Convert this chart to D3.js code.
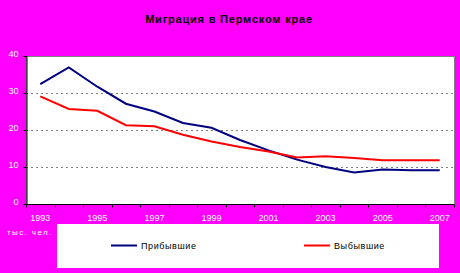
<!DOCTYPE html>
<html>
<head>
<meta charset="UTF-8">
<style>
  body { margin: 0; background: #ff00ff; }
  svg { display: block; font-family: Arial, "Liberation Sans", sans-serif; }
</style>
</head>
<body>
<script src="https://d3js.org/d3.v7.min.js"></script>
<svg width="460" height="273"></svg>
<script>
var years = [1993, 1994, 1995, 1996, 1997, 1998, 1999, 2000, 2001, 2002, 2003, 2004, 2005, 2006, 2007];
var arrived = [32.4, 36.9, 31.7, 27.1, 25.0, 21.9, 20.6, 17.3, 14.5, 12.0, 10.0, 8.5, 9.3, 9.1, 9.1];
var departed = [29.1, 25.7, 25.2, 21.3, 21.0, 18.7, 16.9, 15.4, 14.2, 12.6, 12.9, 12.4, 11.8, 11.8, 11.8];
var yTicks = [0, 10, 20, 30, 40];
var seriesNames = ["Прибывшие", "Выбывшие"];

var svg = d3.select("svg");
var plotL = 26, plotR = 454, plotT = 56, plotB = 204;

var x = d3.scaleBand().domain(years).range([plotL, plotR]);
var y = d3.scaleLinear().domain([0, 40]).range([plotB, plotT]);

svg.append("rect").attr("width", 460).attr("height", 273).attr("fill", "#ff00ff");

// plot area
svg.append("rect")
  .attr("x", plotL + 0.5).attr("y", plotT + 0.5)
  .attr("width", plotR - plotL).attr("height", plotB - plotT)
  .attr("fill", "#fff").attr("stroke", "#808080");

// gridlines
svg.append("g").selectAll("line")
  .data([10, 20, 30])
  .join("line")
  .attr("x1", plotL).attr("x2", plotR)
  .attr("y1", d => y(d) + 0.5).attr("y2", d => y(d) + 0.5)
  .attr("stroke", "#808080").attr("stroke-dasharray", "2,3");

// title
svg.append("text")
  .attr("x", 229).attr("y", 23)
  .attr("text-anchor", "middle")
  .attr("font-size", 11).attr("font-weight", "bold")
  .attr("letter-spacing", 0.8)
  .text("Миграция в Пермском крае");

// y axis
var yAxis = svg.append("g")
  .attr("transform", "translate(" + (plotL + 0.5) + ",0)")
  .call(d3.axisLeft(y).tickValues(yTicks).tickSize(3).tickPadding(5));
yAxis.select(".domain").attr("stroke", "#000");
yAxis.selectAll("text").attr("fill", "#fff").attr("font-size", 9).attr("dy", "0.1em");

// x axis: ticks at category boundaries
var xAxis = svg.append("g")
  .attr("transform", "translate(0," + (plotB + 0.5) + ")");
xAxis.append("line").attr("x1", plotL).attr("x2", plotR).attr("stroke", "#000");
xAxis.selectAll(".tk")
  .data(years.concat([null]))
  .join("line")
  .attr("class", "tk")
  .attr("x1", (d, i) => Math.round(plotL + i * x.bandwidth()) + 0.5)
  .attr("x2", (d, i) => Math.round(plotL + i * x.bandwidth()) + 0.5)
  .attr("y1", 0).attr("y2", 3)
  .attr("stroke", "#000");
xAxis.selectAll(".lbl")
  .data(years.filter(d => d % 2 === 1))
  .join("text")
  .attr("class", "lbl")
  .attr("x", d => x(d) + x.bandwidth() / 2)
  .attr("y", 16)
  .attr("text-anchor", "middle")
  .attr("fill", "#fff").attr("font-size", 9)
  .text(d => d);

var line = d3.line()
  .x((d, i) => x(years[i]) + x.bandwidth() / 2)
  .y(d => y(d));

svg.append("path").datum(arrived)
  .attr("d", line).attr("fill", "none")
  .attr("stroke", "#000080").attr("stroke-width", 2);
svg.append("path").datum(departed)
  .attr("d", line).attr("fill", "none")
  .attr("stroke", "#ff0000").attr("stroke-width", 2);

// unit label
svg.append("text")
  .attr("x", 7).attr("y", 235)
  .attr("fill", "#fff").attr("font-size", 8)
  .attr("letter-spacing", 1.4)
  .text("тыс. чел.");

// legend
svg.append("rect")
  .attr("x", 57).attr("y", 224).attr("width", 382).attr("height", 44)
  .attr("fill", "#fff");
var legendItems = [
  {name: seriesNames[0], color: "#000080", x: 111},
  {name: seriesNames[1], color: "#ff0000", x: 304}
];
var lg = svg.append("g").selectAll("g").data(legendItems).join("g")
  .attr("transform", d => "translate(" + d.x + ",245.5)");
lg.append("line").attr("x1", 0).attr("x2", 26)
  .attr("stroke", d => d.color).attr("stroke-width", 2);
lg.append("text").attr("x", 30).attr("y", 3.5)
  .attr("font-size", 9).attr("letter-spacing", 0.6)
  .text(d => d.name);
</script>
</body>
</html>
